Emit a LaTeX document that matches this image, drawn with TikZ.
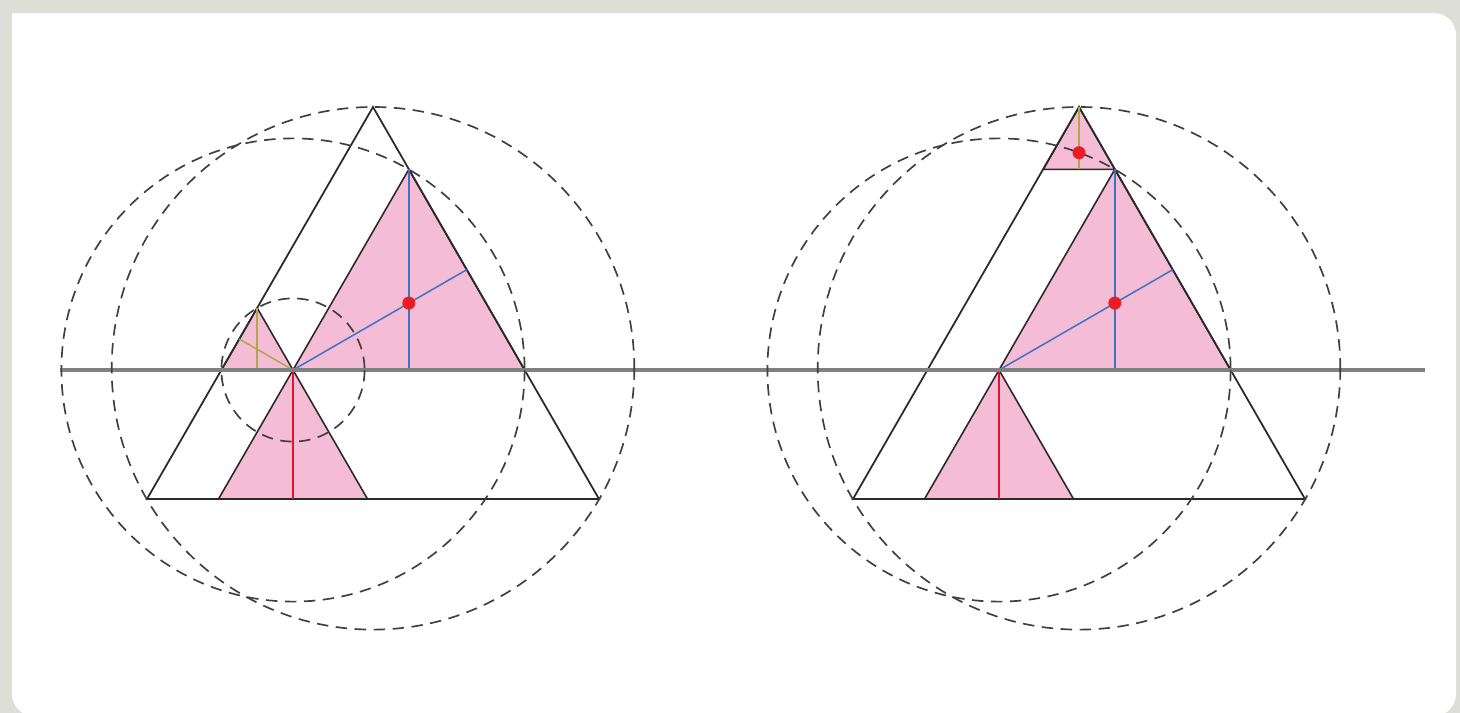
\documentclass[tikz,border=0pt]{standalone}
\usetikzlibrary{calc}
\definecolor{bgc}{HTML}{DDDED6}
\definecolor{pinkf}{HTML}{F5BCD6}
\definecolor{blueL}{HTML}{3E72C8}
\definecolor{redL}{HTML}{E3122E}
\definecolor{redD}{HTML}{EC1C24}
\definecolor{oliveL}{HTML}{AFA94A}
\definecolor{lineC}{HTML}{2A2A2A}
\definecolor{grayL}{HTML}{808080}
\begin{document}
\begin{tikzpicture}[x=0.02cm,y=-0.02cm,
  tri/.style={draw=lineC,line width=1pt,line join=miter},
  pinktri/.style={fill=pinkf,draw=lineC,line width=0.9pt},
  circ/.style={draw=lineC!90,line width=0.95pt,dash pattern=on 6.5pt off 4.3pt},
  blueline/.style={draw=blueL,line width=0.85pt},
  redline/.style={draw=redL,line width=0.85pt},
  oliveline/.style={draw=oliveL,line width=0.85pt},
  axis/.style={draw=grayL,line width=1.9pt},
  dot/.style={fill=redD}]
\useasboundingbox (0,0) rectangle (1460,713);
\fill[bgc] (0,0) rectangle (1460,713);
\fill[white,rounded corners=0.44cm] (12,13) rectangle (1456,716);
\fill[white] (12,13) rectangle (60,60);

% ---------- left figure ----------
\coordinate (A) at (373,107);
\coordinate (B) at (147,499);
\coordinate (C) at (599,499);
\coordinate (P) at (293,370);
\coordinate (R1) at (524.6,370);
\coordinate (T1) at (408.8,169.4);
\coordinate (L1) at (221.4,370);
\coordinate (S1) at (257.2,308);
\coordinate (D1) at (218.5,499);
\coordinate (D2) at (367.5,499);
\coordinate (F1) at (466.7,269.7);
\coordinate (G1) at (239.3,339);
\coordinate (M1) at (408.8,303.1);
\coordinate (O1) at (373,368.3);

\path[pinktri] (P) -- (R1) -- (T1) -- cycle;
\path[pinktri] (L1) -- (P) -- (S1) -- cycle;
\path[pinktri] (D1) -- (D2) -- (P) -- cycle;
\path[tri] (A) -- (B) -- (C) -- cycle;

\draw[blueline] (T1) -- (T1 |- P);
\draw[blueline] (P) -- (F1);
\draw[oliveline] (S1) -- (S1 |- P);
\draw[oliveline] (P) -- (G1);
\draw[redline] (P) -- (P |- D1);

% ---------- right figure ----------
\coordinate (A2) at (1079,107);
\coordinate (B2) at (853,499);
\coordinate (C2) at (1305,499);
\coordinate (Q) at (999,370);
\coordinate (R2) at (1230.6,370);
\coordinate (T2) at (1114.8,169.4);
\coordinate (K2) at (1043.2,169.4);
\coordinate (E1) at (924.5,499);
\coordinate (E2) at (1073.5,499);
\coordinate (F2) at (1172.7,269.7);
\coordinate (M2) at (1114.8,303.1);
\coordinate (N2) at (1079,152.7);
\coordinate (O2) at (1079,368.3);

\path[pinktri] (Q) -- (R2) -- (T2) -- cycle;
\path[pinktri] (A2) -- (K2) -- (T2) -- cycle;
\path[pinktri] (E1) -- (E2) -- (Q) -- cycle;
\path[tri] (A2) -- (B2) -- (C2) -- cycle;

\draw[blueline] (T2) -- (T2 |- Q);
\draw[blueline] (Q) -- (F2);
\draw[oliveline] (A2) -- (A2 |- K2);
\draw[redline] (Q) -- (Q |- E1);

% ---------- axis ----------
\coordinate (X0) at (60,370);
\coordinate (X1) at (1425,370);
\draw[axis] (X0) -- (X1);

% ---------- circles ----------
\draw[circ] (O1) circle[radius=261.3];
\draw[circ] (P) circle[radius=231.6];
\draw[circ] (P) circle[radius=71.6];
\draw[circ] (O2) circle[radius=261.3];
\draw[circ] (Q) circle[radius=231.6];

% ---------- dots ----------
\fill[dot] (M1) circle[radius=6.5];
\fill[dot] (M2) circle[radius=6.5];
\fill[dot] (N2) circle[radius=6.5];
\end{tikzpicture}
\end{document}
